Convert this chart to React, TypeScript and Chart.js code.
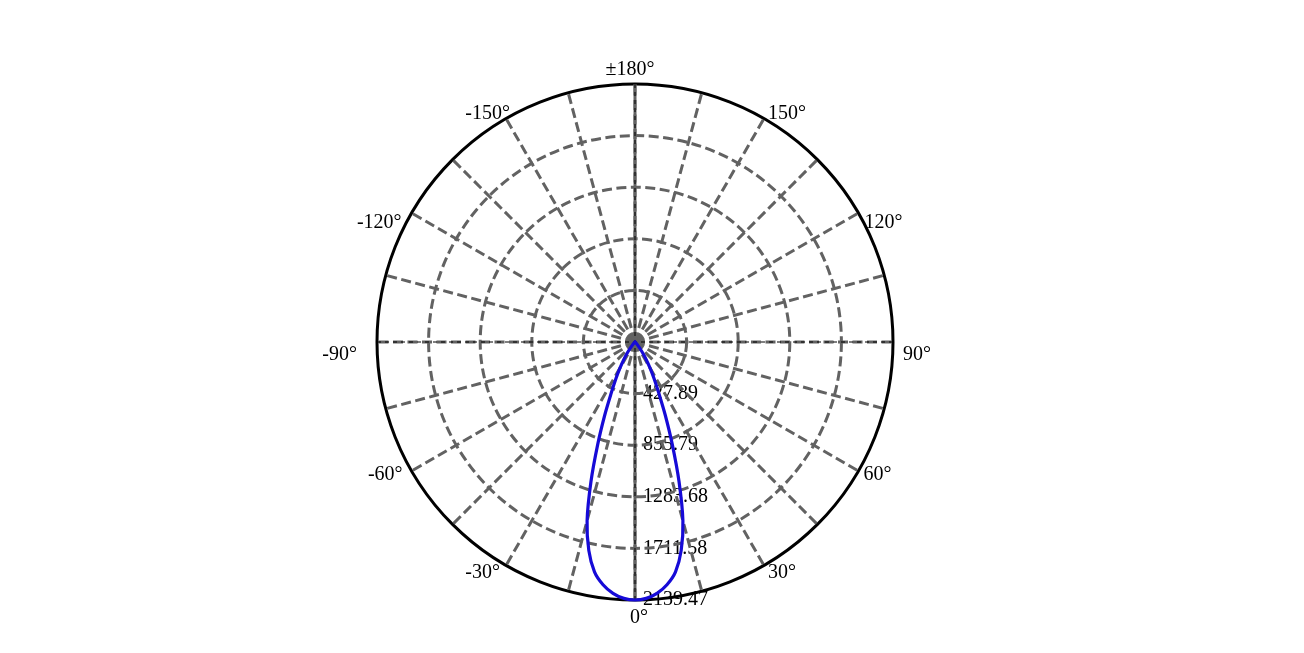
import React, { useEffect, useRef } from 'react';
import { Chart, registerables } from 'chart.js';

Chart.register(...registerables);

// half profile (deg from nadir -> cd), the beam is symmetric
const beamAngles = [0, 2.5, 5, 7.5, 10, 12.5, 15, 17.5, 20, 22.5, 25, 27.5, 30, 32.5, 35, 37.5, 40, 42.5, 45];
const beamIntensity = [2139.47, 2128, 2092, 2030, 1935, 1770, 1535, 1215, 905, 655, 465, 345, 250, 172, 112, 68, 36, 15, 5];

const radialTicks = [427.89, 855.79, 1283.68, 1711.58, 2139.47];
const rMax = 2139.47;

const angleTicks = [0, 30, 60, 90, 120, 150, 180, -150, -120, -90, -60, -30];
const angleTickLabels = ['0°', '30°', '60°', '90°', '120°', '150°', '±180°', '-150°', '-120°', '-90°', '-60°', '-30°'];

const STEP = 2.5;
const N = 360 / STEP;
const GRAY = 'rgb(98,98,98)';
const DASH = [10, 4.5];
const FONT = '20px "Liberation Serif", "Times New Roman", serif';

// text placement next to the rim: [align, dx, dy]
const labelPlacement: Record<number, [CanvasTextAlign, number, number]> = {
    0: ['center', 4, 18],
    30: ['left', 4, 7],
    60: ['left', 5, 4],
    90: ['left', 10, 13],
    120: ['left', 6, 10],
    150: ['left', 4, -5],
    180: ['center', -5, -14],
    [-150]: ['right', 4, -5],
    [-120]: ['right', -10, 10],
    [-90]: ['right', -20, 13],
    [-60]: ['right', -9, 4],
    [-30]: ['right', -6, 7],
};

const norm = (a: number) => {
    let v = ((a % 360) + 360) % 360;
    if (v > 180) v -= 360;
    return v;
};

// index k sits at -k*STEP degrees (startAngle 180 puts index 0 at the bottom)
const ringAngles = Array.from({ length: N }, (_, k) => norm(-k * STEP));
const ringValues = ringAngles.map((a) => {
    const i = beamAngles.indexOf(Math.abs(a));
    return i >= 0 ? beamIntensity[i] : 0;
});

const polarText = {
    id: 'polarText',
    beforeDraw(chart: any) {
        const s = chart.scales.r;
        const ctx = chart.ctx;
        ctx.save();
        ctx.font = FONT;
        ctx.fillStyle = '#000';
        ctx.textAlign = 'left';
        ctx.textBaseline = 'middle';
        radialTicks.forEach((v) => {
            ctx.fillText(v.toFixed(2), s.xCenter + 8, s.yCenter + s.getDistanceFromCenterForValue(v));
        });
        ctx.restore();
    },
    beforeDatasetsDraw(chart: any) {
        const s = chart.scales.r;
        const ctx = chart.ctx;
        const R = s.drawingArea;
        ctx.save();
        ctx.strokeStyle = GRAY;
        ctx.lineWidth = 3;
        ctx.beginPath();
        ctx.moveTo(s.xCenter, s.yCenter - R);
        ctx.lineTo(s.xCenter, s.yCenter + R);
        ctx.stroke();
        ctx.strokeStyle = '#000';
        ctx.lineWidth = 1;
        ctx.setLineDash([4, 4]);
        ctx.beginPath();
        ctx.moveTo(s.xCenter, s.yCenter - R);
        ctx.lineTo(s.xCenter, s.yCenter + R);
        ctx.moveTo(s.xCenter - R, s.yCenter);
        ctx.lineTo(s.xCenter + R, s.yCenter);
        ctx.stroke();
        ctx.restore();
    },
    afterDraw(chart: any) {
        const s = chart.scales.r;
        const ctx = chart.ctx;
        ctx.save();
        ctx.font = FONT;
        ctx.fillStyle = '#000';
        ctx.textBaseline = 'middle';
        angleTicks.forEach((a, i) => {
            const idx = (((-a / STEP) % N) + N) % N;
            const p = s.getPointPosition(idx, s.drawingArea);
            const [align, dx, dy] = labelPlacement[a];
            ctx.textAlign = align;
            ctx.fillText(angleTickLabels[i], p.x + dx, p.y + dy);
        });
        ctx.restore();
    },
};

const PolarChart: React.FC = () => {
    const canvasRef = useRef<HTMLCanvasElement>(null);
    const chartRef = useRef<Chart>();

    useEffect(() => {
        const ctx = canvasRef.current?.getContext('2d');
        if (!ctx) return;
        if (chartRef.current) chartRef.current.destroy();

        chartRef.current = new Chart(ctx, {
            type: 'radar',
            data: {
                labels: ringAngles.map((a) => `${a}°`),
                datasets: [
                    {
                        data: ringValues,
                        borderColor: 'rgb(22,10,215)',
                        borderWidth: 3.2,
                        fill: false,
                        pointRadius: 0,
                        tension: 0.3,
                    },
                ],
            },
            options: {
                animation: false,
                responsive: false,
                layout: { padding: { left: 377, right: 411, top: 84, bottom: 53 } },
                plugins: { legend: { display: false }, tooltip: { enabled: false } },
                scales: {
                    r: {
                        min: 0,
                        max: rMax,
                        startAngle: 180,
                        ticks: { display: false, count: 6 },
                        pointLabels: { display: false },
                        grid: {
                            circular: true,
                            color: (c: any) => (c.tick && c.tick.value > rMax - 1 ? '#000' : GRAY),
                            lineWidth: 3,
                        },
                        border: {
                            dash: (c: any) => (c.tick && c.tick.value > rMax - 1 ? [] : DASH),
                        },
                        angleLines: {
                            display: true,
                            color: GRAY,
                            lineWidth: (c: any) => (c.index % 6 === 0 ? 3 : 0),
                            borderDash: DASH,
                        },
                    },
                },
            },
            plugins: [polarText],
        } as any);

        return () => {
            if (chartRef.current) {
                chartRef.current.destroy();
                chartRef.current = undefined;
            }
        };
    }, []);

    return (
        <div style={{ position: 'fixed', left: 0, top: 0, width: 1304, height: 653, background: '#fff' }}>
            <canvas ref={canvasRef} width={1304} height={653} />
        </div>
    );
};

export default function App() {
    return <PolarChart />;
}
